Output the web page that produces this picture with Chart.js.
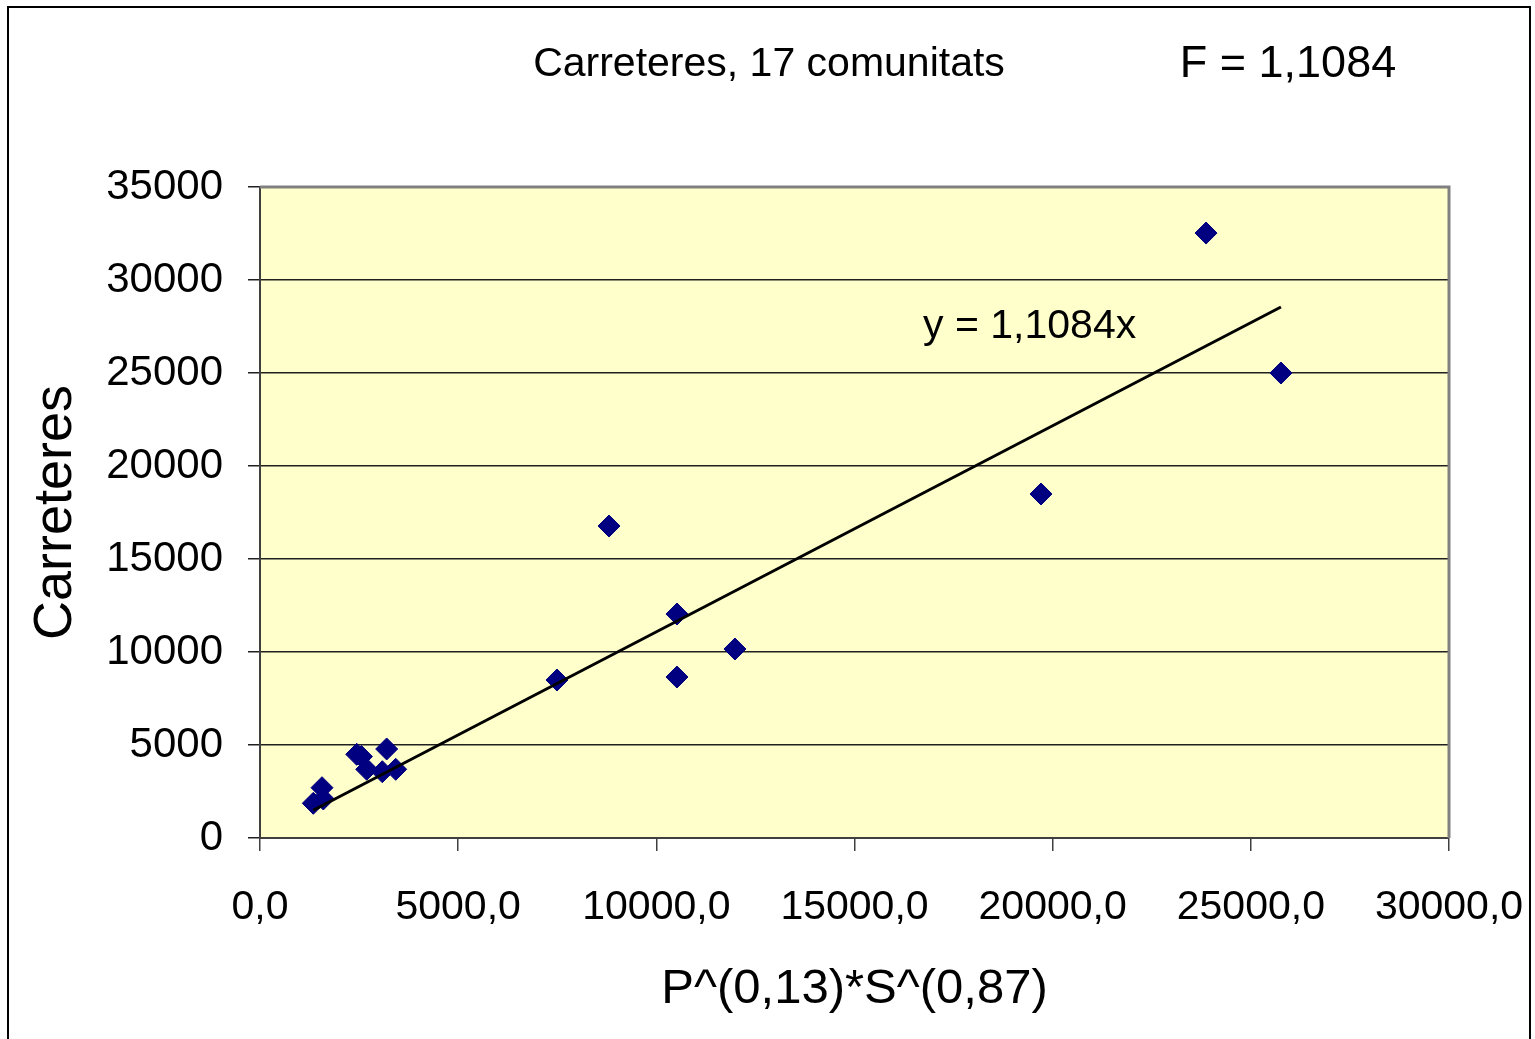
<!DOCTYPE html>
<html>
<head>
<meta charset="utf-8">
<script src="https://cdn.jsdelivr.net/npm/chart.js@4"></script>
<style>
    body { margin: 0; background: #fff; }
    #wrap { width: 1535px; height: 1039px; }
</style>
</head>
<body>
<div id="wrap"><canvas id="chart" width="1535" height="1039"></canvas></div>
<script>
/**
 * Values.
 */
const X_VALUES = [1345, 1597, 1564, 2440, 2560, 2692, 3086, 3196, 3424, 7493, 8806, 10521, 10521, 11984, 19705, 23870, 25760];
const Y_VALUES = [1865, 2097, 2704, 4500, 4380, 3693, 3564, 4785, 3693, 8494, 16773, 12042, 8655, 10161, 18494, 32525, 25000];

const TREND_X = [1345, 25760];
const TREND_Y = [1490, 28550];

const Y_TICKS = [0, 5000, 10000, 15000, 20000, 25000, 30000, 35000];
const X_TICKS = [0, 5000, 10000, 15000, 20000, 25000, 30000];

const TITLE = 'Carreteres, 17 comunitats';
const F_TEXT = 'F = 1,1084';
const TREND_LABEL = 'y = 1,1084x';
const TREND_LABEL_AT = [16730, 27480];
const X_TITLE = 'P^(0,13)*S^(0,87)';
const Y_TITLE = 'Carreteres';

const FONT = '"Liberation Sans", Arial, sans-serif';

const onDOMLoaded = () => {
    const CTX = document.getElementById('chart').getContext('2d');

    /**
     * Frame, yellow plot background, top/right border, texts.
     */
    const decor = {
        id: 'decor',
        beforeDraw: (chart) => {
            const {ctx, chartArea: a} = chart;
            ctx.save();
            ctx.fillStyle = '#fff';
            ctx.fillRect(0, 0, chart.width, chart.height);
            ctx.fillStyle = '#FFFFCC';
            ctx.fillRect(a.left, a.top, a.right - a.left, a.bottom - a.top);
            ctx.restore();
        },
        afterDatasetsDraw: (chart) => {
            const {ctx, chartArea: a, scales} = chart;
            ctx.save();
            ctx.strokeStyle = '#808080';
            ctx.lineWidth = 3;
            ctx.beginPath();
            ctx.moveTo(a.left, a.top);
            ctx.lineTo(a.right, a.top);
            ctx.lineTo(a.right, a.bottom);
            ctx.stroke();

            ctx.strokeStyle = '#000';
            ctx.lineWidth = 2;
            ctx.beginPath();
            ctx.moveTo(8, 1045);
            ctx.lineTo(8, 7);
            ctx.lineTo(1530, 7);
            ctx.lineTo(1530, 1045);
            ctx.stroke();

            ctx.fillStyle = '#000';
            ctx.textBaseline = 'middle';
            ctx.textAlign = 'center';
            ctx.font = '41px ' + FONT;
            ctx.fillText(TITLE, 769, 65);
            ctx.font = '45px ' + FONT;
            ctx.fillText(F_TEXT, 1288, 65);

            ctx.font = '41px ' + FONT;
            ctx.textAlign = 'left';
            ctx.fillText(TREND_LABEL,
                scales.x.getPixelForValue(TREND_LABEL_AT[0]),
                scales.y.getPixelForValue(TREND_LABEL_AT[1]));
            ctx.restore();
        }
    };

    new Chart(CTX, {
        type: 'scatter',
        data: {
            datasets: [
                {
                    type: 'line',
                    data: TREND_X.map((x, i) => ({x, y: TREND_Y[i]})),
                    borderColor: '#000',
                    borderWidth: 3,
                    pointRadius: 0,
                    order: 0
                },
                {
                    data: X_VALUES.map((x, i) => ({x, y: Y_VALUES[i]})),
                    pointStyle: 'rectRot',
                    pointRadius: 11,
                    backgroundColor: '#000080',
                    borderColor: '#000080',
                    borderWidth: 1,
                    order: 1
                }
            ]
        },
        options: {
            responsive: false,
            animation: false,
            layout: {padding: {left: 10, top: 187, right: 86, bottom: 0}},
            plugins: {legend: {display: false}, tooltip: {enabled: false}},
            scales: {
                x: {
                    type: 'linear',
                    min: 0,
                    max: 30000,
                    afterFit: (s) => {
                        s.height = 201;
                        s.paddingLeft = 0;
                        s.paddingRight = 0;
                    },
                    afterBuildTicks: (s) => { s.ticks = X_TICKS.map((value) => ({value})); },
                    grid: {drawOnChartArea: false, color: '#404040', tickLength: 13, lineWidth: 1.5},
                    border: {color: '#404040', width: 2},
                    ticks: {
                        color: '#000',
                        padding: 32,
                        maxRotation: 0,
                        font: {family: FONT, size: 41},
                        callback: (v) => v.toFixed(1).replace('.', ',')
                    },
                    title: {display: true, text: X_TITLE, color: '#000', padding: {bottom: 20},
                        font: {family: FONT, size: 49}}
                },
                y: {
                    min: 0,
                    max: 35000,
                    afterFit: (s) => {
                        s.width = 250;
                        s.paddingTop = 0;
                        s.paddingBottom = 0;
                    },
                    afterBuildTicks: (s) => { s.ticks = Y_TICKS.map((value) => ({value})); },
                    grid: {color: '#202020', tickLength: 12, lineWidth: 1.5},
                    border: {color: '#404040', width: 2},
                    ticks: {
                        color: '#000',
                        padding: 25,
                        font: {family: FONT, size: 42},
                        callback: (v) => String(v)
                    },
                    title: {display: true, text: Y_TITLE, color: '#000', padding: {top: 14},
                        font: {family: FONT, size: 54}}
                }
            }
        },
        plugins: [decor]
    });
};

document.addEventListener('DOMContentLoaded', onDOMLoaded);
</script>
</body>
</html>
